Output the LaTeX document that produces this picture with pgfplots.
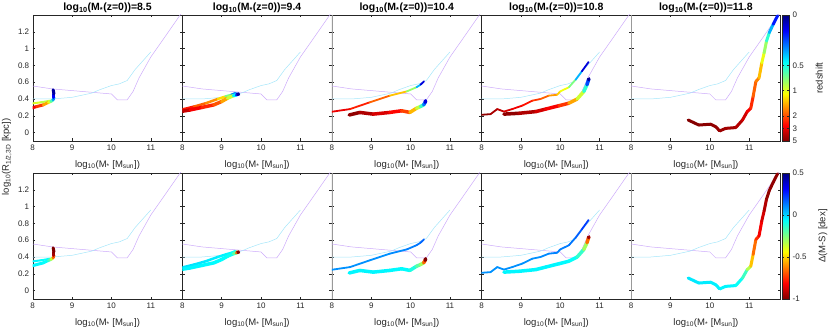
\documentclass[border=0pt]{standalone}
\usepackage{fontspec}
\setmainfont{Liberation Sans}
\usepackage{pgfplots}
\pgfplotsset{compat=1.18}
\usepgfplotslibrary{groupplots}
\usepackage{pgfplotstable}

\definecolor{axgray}{gray}{0.15}
\definecolor{refpurple}{RGB}{204,170,250}
\definecolor{refcyan}{RGB}{165,230,250}

% reference relations (same in every panel)
\pgfplotstableread{
x y
8.00 0.555
8.50 0.52
9.00 0.50
9.50 0.48
10.00 0.46
10.15 0.39
10.40 0.39
10.55 0.49
10.70 0.65
11.00 0.90
11.30 1.10
11.76 1.41
}\refP
\pgfplotstableread{
x y
8.00 0.40
8.50 0.40
9.00 0.42
9.50 0.47
9.70 0.51
10.00 0.56
10.20 0.58
10.40 0.62
10.60 0.75
11.00 0.96
}\refC

% tracks: x, y, scale factor a=1/(1+z), offset d from main sequence
\pgfplotstableread{
x y a d
7.95 0.29 0.25 -0.05
8.10 0.31 0.27 -0.05
8.27 0.33 0.36 -0.06
8.40 0.36 0.45 -0.08
8.46 0.37 0.55 -0.25
8.52 0.39 0.70 -0.45
8.54 0.42 0.85 -0.90
8.54 0.46 0.95 -1.00
8.52 0.51 1.00 -1.00
}\tA
\pgfplotstableread{
x y a d
7.95 0.345 0.50 -0.05
8.20 0.36 0.52 -0.05
8.45 0.38 0.55 -0.08
}\tAb
\pgfplotstableread{
x y a d
7.95 0.25 0.20 -0.05
8.20 0.27 0.25 -0.05
8.50 0.30 0.28 -0.05
8.80 0.33 0.32 -0.06
9.00 0.37 0.36 -0.06
9.15 0.41 0.45 -0.07
9.30 0.44 0.60 -0.10
9.38 0.45 0.80 -0.30
9.41 0.46 0.95 -1.00
9.43 0.455 1.00 -1.00
}\tB
\pgfplotstableread{
x y a d
7.95 0.27 0.25 -0.02
8.30 0.31 0.33 -0.02
8.60 0.35 0.37 -0.03
8.90 0.40 0.40 -0.04
9.10 0.43 0.50 -0.05
9.25 0.45 0.68 -0.05
9.35 0.47 0.90 -0.10
}\tBb
\pgfplotstableread{
x y a d
7.95 0.245 0.24 0.10
8.46 0.28 0.27 0.10
8.96 0.36 0.32 0.10
9.47 0.44 0.38 0.10
9.90 0.49 0.48 0.12
10.15 0.54 0.65 0.13
10.25 0.57 0.85 0.15
10.34 0.61 1.00 0.18
}\tCa
\pgfplotstableread{
x y a d
8.44 0.21 0.17 -0.05
8.71 0.24 0.19 -0.05
9.05 0.22 0.22 -0.05
9.47 0.24 0.26 -0.05
9.77 0.26 0.29 -0.06
9.98 0.24 0.36 -0.06
10.15 0.29 0.48 -0.15
10.25 0.31 0.58 -0.25
10.33 0.33 0.70 -0.35
10.37 0.36 0.90 -1.00
10.38 0.38 0.95 -1.00
}\tCb
\pgfplotstableread{
x y a d
7.95 0.21 0.17 0.10
8.23 0.22 0.19 0.10
8.40 0.28 0.21 0.10
8.57 0.25 0.23 0.10
8.78 0.28 0.25 0.10
9.03 0.32 0.27 0.10
9.29 0.38 0.30 0.10
9.50 0.40 0.33 0.10
9.71 0.44 0.37 0.12
9.92 0.45 0.42 0.12
10.00 0.49 0.46 0.12
10.22 0.54 0.52 0.13
10.39 0.63 0.65 0.15
10.55 0.73 0.85 0.20
10.72 0.84 1.00 0.25
}\tDa
\pgfplotstableread{
x y a d
8.57 0.22 0.17 -0.05
8.95 0.23 0.19 -0.05
9.38 0.25 0.22 -0.05
9.63 0.28 0.25 -0.05
9.97 0.32 0.28 -0.05
10.22 0.35 0.35 -0.06
10.43 0.40 0.46 -0.08
10.60 0.49 0.58 -0.20
10.68 0.57 0.72 -0.40
10.72 0.63 0.95 -0.90
10.73 0.64 1.00 -1.00
}\tDb
\pgfplotstableread{
x y a d
9.45 0.15 0.17 -0.03
9.72 0.09 0.17 -0.03
10.02 0.10 0.18 -0.04
10.15 0.07 0.18 -0.04
10.25 0.02 0.19 -0.05
10.40 0.05 0.19 -0.05
10.66 0.06 0.20 -0.05
10.83 0.15 0.22 -0.10
10.95 0.25 0.25 -0.20
11.04 0.29 0.28 -0.45
11.10 0.43 0.33 -0.60
11.17 0.61 0.37 -0.70
11.25 0.65 0.38 -0.80
11.32 0.83 0.47 -0.85
11.38 0.95 0.52 -0.90
11.44 1.09 0.60 -0.95
11.51 1.19 0.70 -1.00
11.61 1.29 0.80 -0.95
11.72 1.39 0.95 -1.00
}\tE

\pgfplotsset{
  colormap={jetr}{rgb255(0cm)=(128,0,0) rgb255(1cm)=(255,0,0) rgb255(3cm)=(255,255,0) rgb255(5cm)=(0,255,255) rgb255(7cm)=(0,0,255) rgb255(8cm)=(0,0,128)},
  panel/.style={
    width=149.6pt, height=126pt, scale only axis,
    xmin=8, xmax=11.8, ymin=-0.1, ymax=1.4,
    xtick={8,9,10,11}, ytick={0,0.2,0.4,0.6,0.8,1,1.2},
    tick align=inside, major tick length=2.5pt,
    axis line style={axgray, line width=0.4pt},
    tick style={axgray, line width=0.4pt},
    tick label style={font=\fontsize{8}{9}\selectfont, text=axgray},
    /pgf/number format/assume math mode=true,
    xlabel={log\textsubscript{10}(M\textsubscript{*} [M\textsubscript{sun}])},
    label style={font=\fontsize{9.5}{10}\selectfont, text=axgray},
    xlabel style={yshift=-3.5pt},
    every axis title/.style={at={(0.5,1)}, anchor=base, yshift=4.5pt,
      font=\bfseries\fontsize{10.5}{11}\selectfont},
    colormap name=jetr,
    colorbar shift/.style={xshift=1.3pt},
  },
  toprow/.style={point meta min=0.16667, point meta max=1},
  botrow/.style={point meta min=-1, point meta max=0.5},
  trk/.style={mesh, point meta=explicit, line width=#1, line cap=round, line join=round},
  refp/.style={refpurple, line width=0.5pt},
  refc/.style={refcyan, line width=0.5pt},
  cbar/.style={
    width=7pt,
    tick align=inside, major tick length=2pt,
    axis line style={axgray, line width=0.4pt},
    tick style={axgray, line width=0.4pt},
    tick label style={font=\fontsize{8}{9}\selectfont, text=axgray},
    /pgf/number format/assume math mode=true,
    label style={font=\fontsize{9.5}{10}\selectfont, text=axgray},
    ylabel shift=5pt,
  },
}

\begin{document}
\begin{tikzpicture}
\begin{groupplot}[group style={group size=5 by 2, horizontal sep=0pt, vertical sep=32pt, yticklabels at=edge left}, panel]
% ---- top row: coloured by redshift
\nextgroupplot[toprow, title={log\textsubscript{10}(M\textsubscript{*}(z=0))=8.5}]
\coordinate (tl) at (rel axis cs:0,1);
\addplot[refp] table {\refP};
\addplot[refc] table {\refC};
\addplot[trk=2pt] table[x=x, y=y, meta=a] {\tAb};
\addplot[trk=3pt] table[x=x, y=y, meta=a] {\tA};
\nextgroupplot[toprow, title={log\textsubscript{10}(M\textsubscript{*}(z=0))=9.4}]
\addplot[refp] table {\refP};
\addplot[refc] table {\refC};
\addplot[trk=2.5pt] table[x=x, y=y, meta=a] {\tBb};
\addplot[trk=3.5pt] table[x=x, y=y, meta=a] {\tB};
\nextgroupplot[toprow, title={log\textsubscript{10}(M\textsubscript{*}(z=0))=10.4}]
\draw[gray!80, line width=1.3pt] (rel axis cs:0,0) -- (rel axis cs:0,1);
\addplot[refp] table {\refP};
\addplot[refc] table {\refC};
\addplot[trk=1.8pt] table[x=x, y=y, meta=a] {\tCa};
\addplot[trk=3.5pt] table[x=x, y=y, meta=a] {\tCb};
\nextgroupplot[toprow, title={log\textsubscript{10}(M\textsubscript{*}(z=0))=10.8}]
\addplot[refp] table {\refP};
\addplot[refc] table {\refC};
\addplot[trk=1.8pt] table[x=x, y=y, meta=a] {\tDa};
\addplot[trk=3.5pt] table[x=x, y=y, meta=a] {\tDb};
\nextgroupplot[toprow, title={log\textsubscript{10}(M\textsubscript{*}(z=0))=11.8},
  colorbar, colorbar style={cbar,
    ytick={0.16667,0.25,0.33333,0.5,0.66667,1},
    yticklabels={5,3,2,1,0.5,0},
    ylabel={redshift}}]
\draw[gray!80, line width=1.3pt] (rel axis cs:0,0) -- (rel axis cs:0,1);
\addplot[refp] table {\refP};
\addplot[refc] table {\refC};
\addplot[trk=3pt] table[x=x, y=y, meta=a] {\tE};
% ---- bottom row: coloured by offset from main sequence
\nextgroupplot[botrow]
\addplot[refp] table {\refP};
\addplot[refc] table {\refC};
\addplot[trk=2pt] table[x=x, y=y, meta=d] {\tAb};
\addplot[trk=3pt] table[x=x, y=y, meta=d] {\tA};
\nextgroupplot[botrow]
\addplot[refp] table {\refP};
\addplot[refc] table {\refC};
\addplot[trk=2.5pt] table[x=x, y=y, meta=d] {\tBb};
\addplot[trk=3.5pt] table[x=x, y=y, meta=d] {\tB};
\nextgroupplot[botrow]
\draw[gray!80, line width=1.3pt] (rel axis cs:0,0) -- (rel axis cs:0,1);
\addplot[refp] table {\refP};
\addplot[refc] table {\refC};
\addplot[trk=1.8pt] table[x=x, y=y, meta=d] {\tCa};
\addplot[trk=3.5pt] table[x=x, y=y, meta=d] {\tCb};
\nextgroupplot[botrow]
\addplot[refp] table {\refP};
\addplot[refc] table {\refC};
\addplot[trk=1.8pt] table[x=x, y=y, meta=d] {\tDa};
\addplot[trk=3.5pt] table[x=x, y=y, meta=d] {\tDb};
\nextgroupplot[botrow,
  colorbar, colorbar style={cbar,
    ytick={-1,-0.5,0,0.5},
    ylabel={Δ(M-S) [dex]}}]
\draw[gray!80, line width=1.3pt] (rel axis cs:0,0) -- (rel axis cs:0,1);
\addplot[refp] table {\refP};
\addplot[refc] table {\refC};
\addplot[trk=3pt] table[x=x, y=y, meta=d] {\tE};
\end{groupplot}
\node[rotate=90, font=\fontsize{9.5}{10}\selectfont, text=axgray] at ([shift={(-26pt,-142pt)}]tl) {log\textsubscript{10}(R\textsubscript{1/2,3D} [kpc])};
\pgfresetboundingbox
\path ([shift={(-32.7pt,15pt)}]tl) rectangle ([shift={(797.3pt,-317pt)}]tl);
\end{tikzpicture}
\end{document}
